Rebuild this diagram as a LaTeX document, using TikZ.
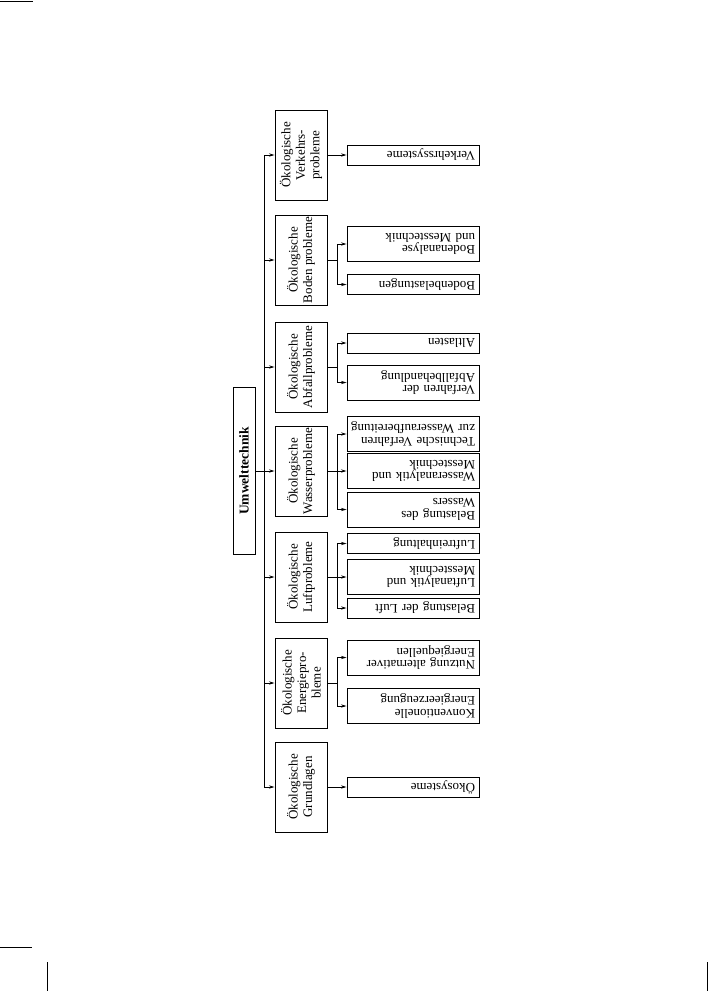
\documentclass[tikz,border=0pt]{standalone}
\usepackage{fontspec}
\setmainfont{Liberation Serif}
\usetikzlibrary{arrows.meta}
\begin{document}
\begin{tikzpicture}[x=1pt,y=-1pt, line width=0.9pt,
  >={Stealth[length=5.5pt,width=3.2pt]},
  cat/.style={draw, rotate=90, minimum width=90pt, minimum height=52pt, inner sep=1pt, align=center, font=\fontsize{13}{14.5}\selectfont},
  leaf/.style={draw, rotate=180, minimum width=132pt, inner xsep=4pt, inner ysep=2pt, text width=124pt, align=left, font=\fontsize{13}{12.5}\selectfont},
  one/.style={minimum height=20pt},
  two/.style={minimum height=35pt},
  root/.style={draw, rotate=90, minimum width=167pt, minimum height=22pt, inner sep=2pt, font=\fontsize{13.5}{15}\selectfont\bfseries},
  deco/.style={line width=0.9pt}
]
\useasboundingbox (0,0) rectangle (711,991);
% page decorations
\draw[deco] (0,1.5) -- (33,1.5);
\draw[deco] (0,947) -- (32,947);
\draw[deco] (47,962) -- (47,991);
\draw[deco] (707,962) -- (707,991);

% root
\node[root] (U) at (244,471) {Umwelttechnik};

% categories
\node[cat] (c1) at (301,155) {Ökologische\\Verkehrs-\\probleme};
\node[cat] (c2) at (301,260) {Ökologische\\Boden probleme};
\node[cat] (c3) at (301,367) {Ökologische\\Abfallprobleme};
\node[cat] (c4) at (301,471) {Ökologische\\Wasserprobleme};
\node[cat] (c5) at (301,577) {Ökologische\\Luftprobleme};
\node[cat] (c6) at (301,683) {Ökologische\\Energiepro-\\bleme};
\node[cat] (c7) at (301,787) {Ökologische\\Grundlagen};

% trunk
\coordinate (t1) at (264,155);
\coordinate (t2) at (264,260);
\coordinate (t3) at (264,367);
\coordinate (t5) at (264,577);
\coordinate (t6) at (264,683);
\coordinate (t7) at (264,787);
\draw (t1) -- (t7);
\draw[->] (t1) -- (c1);
\draw[->] (t2) -- (c2);
\draw[->] (t3) -- (c3);
\draw[->] (U) -- (c4);
\draw[->] (t5) -- (c5);
\draw[->] (t6) -- (c6);
\draw[->] (t7) -- (c7);

% leaves
\node[leaf,one] (l11) at (413,155) {Verkehrssysteme};
\node[leaf,two] (l21) at (413,244) {Bodenanalyse\\und Messtechnik};
\node[leaf,one] (l22) at (413,284.5) {Bodenbelastungen};
\node[leaf,one] (l31) at (413,343) {Altlasten};
\node[leaf,two] (l32) at (413,382.5) {Verfahren der\\Abfallbehandlung};
\node[leaf,two] (l41) at (413,434) {Technische Verfahren\\zur Wasseraufbereitung};
\node[leaf,two] (l42) at (413,471) {Wasseranalytik und\\Messtechnik};
\node[leaf,two] (l43) at (413,509.5) {Belastung des\\Wassers};
\node[leaf,one] (l51) at (413,543.5) {Luftreinhaltung};
\node[leaf,two] (l52) at (413,577) {Luftanalytik und\\Messtechnik};
\node[leaf,one] (l53) at (413,608) {Belastung der Luft};
\node[leaf,two] (l61) at (413,657.5) {Nutzung alternativer\\Energiequellen};
\node[leaf,two] (l62) at (413,706) {Konventionelle\\Energieerzeugung};
\node[leaf,one] (l71) at (413,787) {Ökosysteme};

% branches
\draw[->] (c1) -- (l11);
\draw[->] (c7) -- (l71);
\coordinate (j2) at (337,260);
\coordinate (j3) at (337,367);
\coordinate (j4) at (337,471);
\coordinate (j5) at (337,577);
\coordinate (j6) at (337,683);
\draw (c2) -- (j2);
\draw (c3) -- (j3);
\draw (c4) -- (j4);
\draw (c5) -- (j5);
\draw (c6) -- (j6);
\draw[->] (j2) |- (l21);
\draw[->] (j2) |- (l22);
\draw[->] (j3) |- (l31);
\draw[->] (j3) |- (l32);
\draw[->] (j4) |- (l41);
\draw[->] (j4) |- (l42);
\draw[->] (j4) |- (l43);
\draw[->] (j5) |- (l51);
\draw[->] (j5) |- (l52);
\draw[->] (j5) |- (l53);
\draw[->] (j6) |- (l61);
\draw[->] (j6) |- (l62);
\end{tikzpicture}
\end{document}
